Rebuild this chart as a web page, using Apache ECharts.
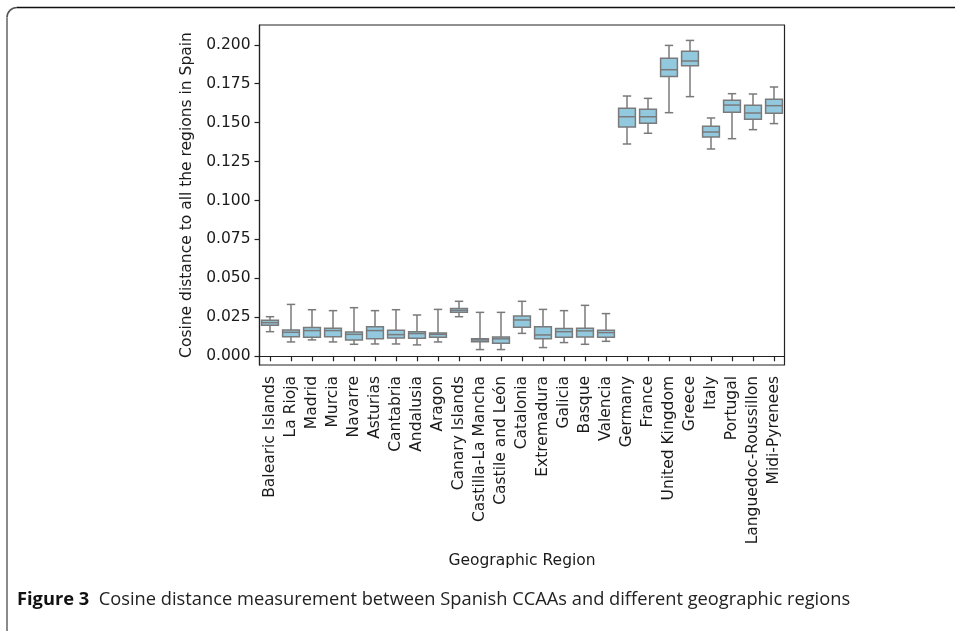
<!DOCTYPE html>
<html>
<head>
<meta charset="utf-8">
<script src="https://cdn.jsdelivr.net/npm/echarts@6/dist/echarts.min.js"></script>
<style>
  html, body { margin: 0; padding: 0; background: #ffffff; }
  #chart { width: 955px; height: 631px; }
</style>
</head>
<body>
<div id="chart"></div>
<script>
// Regions compared against the Spanish CCAAs
const categories = [
  'Balearic Islands', 'La Rioja', 'Madrid', 'Murcia', 'Navarre', 'Asturias',
  'Cantabria', 'Andalusia', 'Aragon', 'Canary Islands', 'Castilla-La Mancha',
  'Castile and León', 'Catalonia', 'Extremadura', 'Galicia', 'Basque', 'Valencia',
  'Germany', 'France', 'United Kingdom', 'Greece', 'Italy', 'Portugal',
  'Languedoc-Roussillon', 'Midi-Pyrenees'
];

// Five-number summaries of the cosine distance per region
const whiskerLow = [0.0158, 0.0092, 0.0105, 0.0092, 0.0077, 0.0079, 0.0079, 0.0073, 0.0092, 0.0254,
  0.0043, 0.0043, 0.0147, 0.0056, 0.0088, 0.0077, 0.0096,
  0.1363, 0.1432, 0.1564, 0.1667, 0.1331, 0.1397, 0.1455, 0.1494];
const q1 = [0.0199, 0.0126, 0.0122, 0.0126, 0.0105, 0.0112, 0.0118, 0.0115, 0.0122, 0.0282,
  0.0094, 0.0083, 0.0186, 0.0112, 0.0122, 0.0124, 0.0122,
  0.1472, 0.1496, 0.1797, 0.1865, 0.1408, 0.1567, 0.1522, 0.1560];
const median = [0.0216, 0.0154, 0.0165, 0.0165, 0.0141, 0.0165, 0.0139, 0.0146, 0.0141, 0.0295,
  0.0105, 0.0112, 0.0233, 0.0137, 0.0158, 0.0163, 0.0152,
  0.1538, 0.1538, 0.1840, 0.1896, 0.1440, 0.1613, 0.1562, 0.1609];
const q3 = [0.0231, 0.0169, 0.0184, 0.0180, 0.0156, 0.0190, 0.0167, 0.0158, 0.0150, 0.0306,
  0.0112, 0.0124, 0.0259, 0.0190, 0.0178, 0.0180, 0.0167,
  0.1592, 0.1586, 0.1913, 0.1958, 0.1477, 0.1644, 0.1612, 0.1650];
const whiskerHigh = [0.0254, 0.0333, 0.0299, 0.0293, 0.0312, 0.0293, 0.0299, 0.0265, 0.0301, 0.0353,
  0.0282, 0.0282, 0.0353, 0.0301, 0.0293, 0.0327, 0.0274,
  0.1671, 0.1656, 0.1996, 0.2028, 0.1530, 0.1686, 0.1684, 0.1729];

const yTicks = [0, 0.025, 0.05, 0.075, 0.1, 0.125, 0.15, 0.175, 0.2];

const boxData = categories.map((c, i) => [i, whiskerLow[i], q1[i], median[i], q3[i], whiskerHigh[i]]);

const FILL = '#93c9de';
const EDGE = '#7a7a7a';
const TEXT = '#1a1a1a';
const FONT = 'DejaVu Sans';

// Box, median, whiskers and half-width caps for one category
function renderBox(params, api) {
  const i = api.value(0);
  const band = api.size([1, 0])[0];
  const half = band * 0.8 / 2;
  const cap = half / 2;
  const pLow = api.coord([i, api.value(1)]);
  const pQ1 = api.coord([i, api.value(2)]);
  const pMed = api.coord([i, api.value(3)]);
  const pQ3 = api.coord([i, api.value(4)]);
  const pHigh = api.coord([i, api.value(5)]);
  const x = pQ1[0];
  const lineStyle = { stroke: EDGE, lineWidth: 1.5, fill: null };
  return {
    type: 'group',
    children: [
      { type: 'line', shape: { x1: x, y1: pQ3[1], x2: x, y2: pHigh[1] }, style: lineStyle },
      { type: 'line', shape: { x1: x, y1: pQ1[1], x2: x, y2: pLow[1] }, style: lineStyle },
      { type: 'line', shape: { x1: x - cap, y1: pHigh[1], x2: x + cap, y2: pHigh[1] }, style: lineStyle },
      { type: 'line', shape: { x1: x - cap, y1: pLow[1], x2: x + cap, y2: pLow[1] }, style: lineStyle },
      { type: 'rect', shape: { x: x - half, y: pQ3[1], width: half * 2, height: pQ1[1] - pQ3[1] },
        style: { fill: FILL, stroke: EDGE, lineWidth: 1.5 } },
      { type: 'line', shape: { x1: x - half, y1: pMed[1], x2: x + half, y2: pMed[1] }, style: lineStyle }
    ]
  };
}

const chart = echarts.init(document.getElementById('chart'), null, { renderer: 'canvas' });

chart.setOption({
  animation: false,
  backgroundColor: '#ffffff',
  grid: {
    left: 259.5, right: 170.5, top: 25, bottom: 266,
    show: true, borderColor: '#222', borderWidth: 1.2, backgroundColor: 'transparent'
  },
  xAxis: {
    type: 'category',
    data: categories,
    boundaryGap: true,
    name: 'Geographic Region',
    nameLocation: 'middle',
    nameGap: 188,
    nameTextStyle: { fontFamily: FONT, fontSize: 15.5, color: TEXT },
    axisLine: { show: true, lineStyle: { color: '#222', width: 1.2 } },
    axisTick: { show: true, alignWithLabel: true, length: 5, lineStyle: { color: '#222', width: 1.2 } },
    axisLabel: { rotate: 90, margin: 11, interval: 0, fontFamily: FONT, fontSize: 15.5, color: TEXT },
    splitLine: { show: false }
  },
  yAxis: {
    type: 'value',
    min: -0.0056,
    max: 0.2127,
    name: 'Cosine distance to all the regions in Spain',
    nameLocation: 'middle',
    nameGap: 64,
    nameTextStyle: { fontFamily: FONT, fontSize: 15.5, color: TEXT },
    axisLine: { show: true, lineStyle: { color: '#222', width: 1.2 } },
    axisTick: { show: true, length: 5, customValues: yTicks, lineStyle: { color: '#222', width: 1.2 } },
    axisLabel: {
      customValues: yTicks, margin: 9, fontFamily: FONT, fontSize: 15.5, color: TEXT,
      formatter: v => v.toFixed(3)
    },
    splitLine: { show: false }
  },
  series: [{
    type: 'custom',
    renderItem: renderBox,
    encode: { x: 0, y: [1, 2, 3, 4, 5] },
    data: boxData,
    clip: false
  }],
  graphic: [
    // page frame: rounded top-left corner, open to the right and bottom
    { type: 'line', shape: { x1: 17, y1: 7.5, x2: 955, y2: 7.5 }, style: { stroke: '#111', lineWidth: 1.3 } },
    { type: 'arc', shape: { cx: 17, cy: 17.5, r: 10, startAngle: Math.PI, endAngle: Math.PI * 1.5 },
      style: { stroke: '#555', lineWidth: 1.6, fill: null } },
    { type: 'line', shape: { x1: 7, y1: 17.5, x2: 7, y2: 631 }, style: { stroke: '#8a8a8a', lineWidth: 2 } },
    {
      type: 'text', left: 17, top: 591,
      style: {
        text: '{b|Figure 3}  Cosine distance measurement between Spanish CCAAs and different geographic regions',
        fontFamily: 'Open Sans', fontSize: 18.3, fill: '#222',
        rich: { b: { fontFamily: 'Open Sans', fontWeight: 'bold', fontSize: 18.3, fill: '#111' } }
      }
    }
  ]
});
</script>
</body>
</html>
